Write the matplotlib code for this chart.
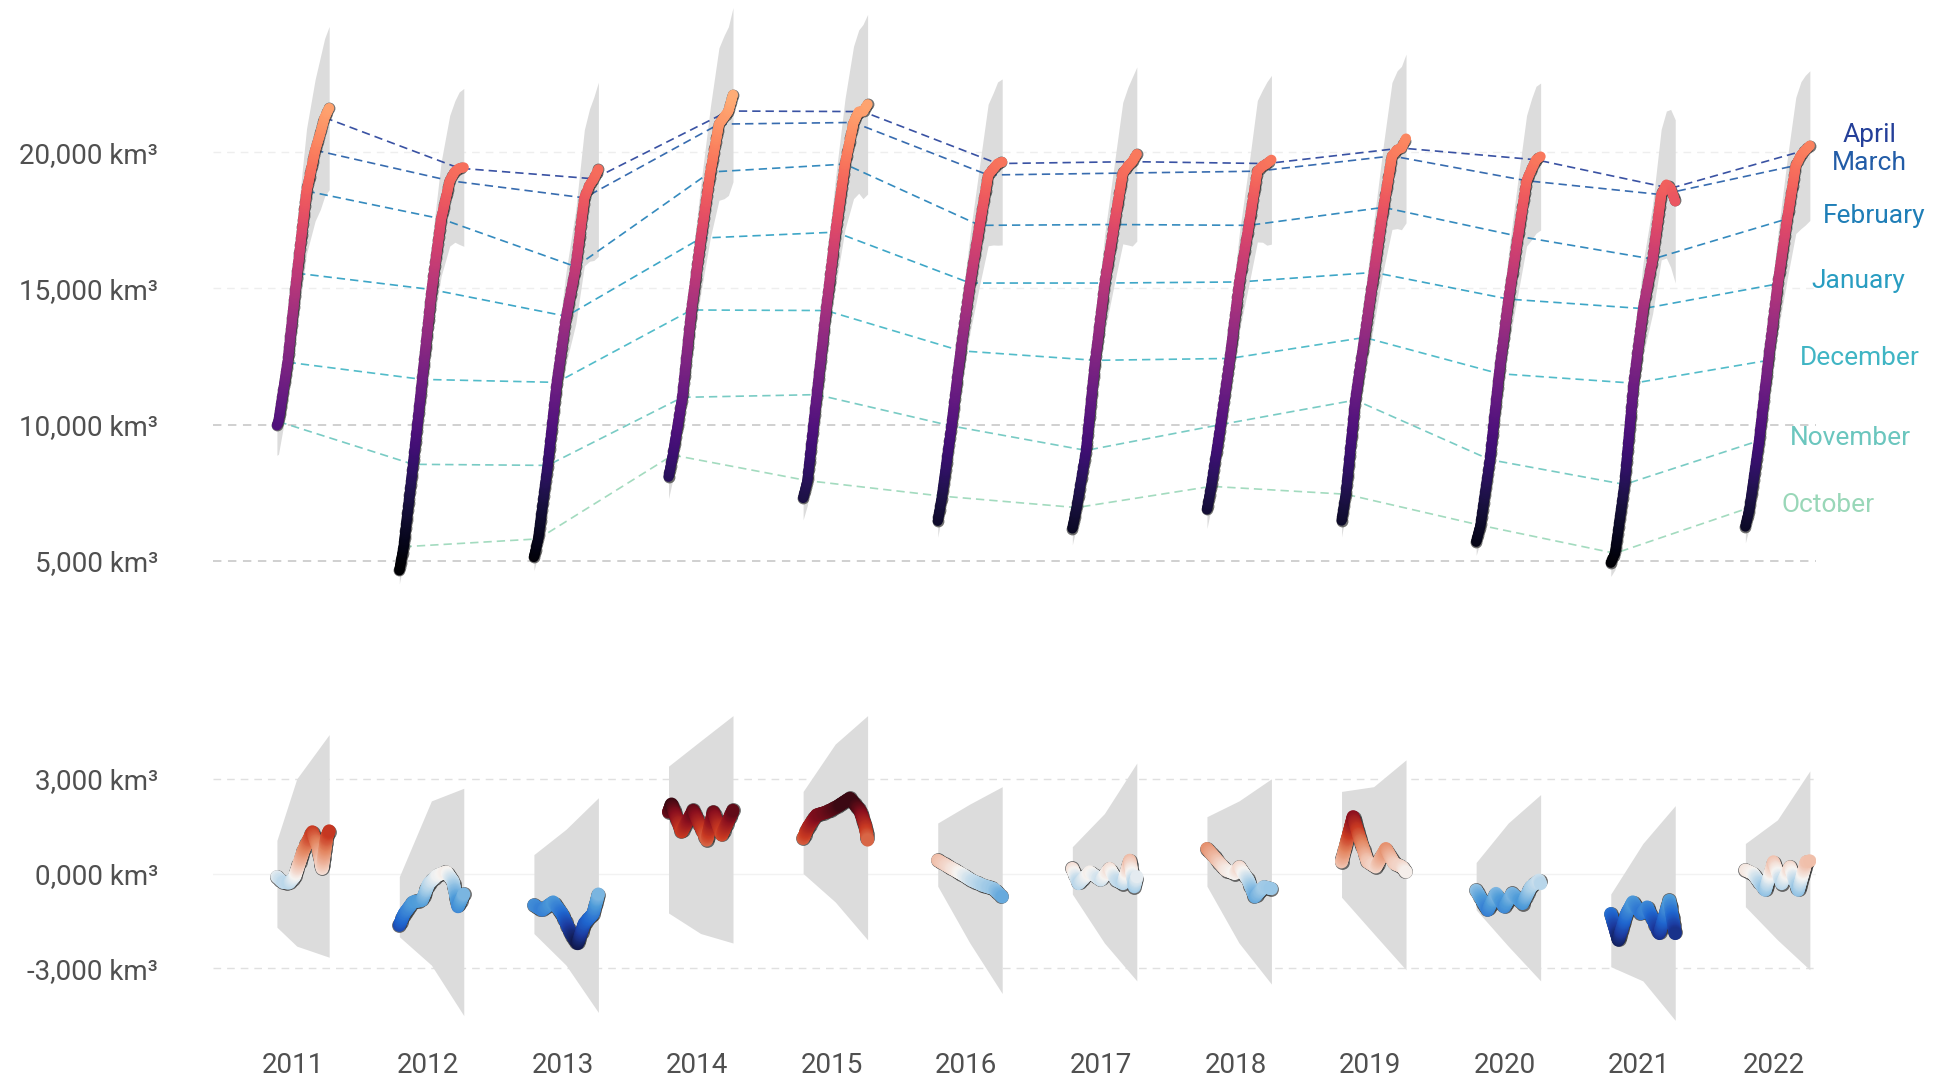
import numpy as np
import matplotlib
matplotlib.use('Agg')
import matplotlib.pyplot as plt
from matplotlib.colors import Normalize, LinearSegmentedColormap

plt.rcParams['font.family'] = ['Roboto', 'DejaVu Sans']

years = [2011, 2012, 2013, 2014, 2015, 2016, 2017, 2018, 2019, 2020, 2021, 2022]
months = ['October', 'November', 'December', 'January', 'February', 'March', 'April']

vol_days = [0, 14, 45, 75, 106, 137, 165, 182, 196, 211]
month_idx = [1, 2, 3, 4, 5, 6, 8]   # mid-month entries of vol_days
first_day = [40, 0, 0, 0, 0, 0, 0, 0, 0, 0, 0, 0]   # 2011 season starts in November
nan = np.nan

# sea ice volume, km3
volume = [
    [9970, nan, 10110, 12290, 15560, 18580, 20080, 20700, 21280, 21630],
    [4640, 5510, 8540, 11660, 14960, 17560, 18960, 19300, 19420, 19450],
    [5130, 5800, 8500, 11550, 13980, 15800, 18330, 18800, 19030, 19380],
    [8080, 8880, 11000, 14210, 16850, 19280, 21040, 21300, 21520, 22120],
    [7300, 7940, 11100, 14190, 17070, 19570, 21100, 21500, 21500, 21770],
    [6460, 7370, 9950, 12710, 15200, 17320, 19170, 19400, 19590, 19650],
    [6180, 6950, 9050, 12360, 15200, 17350, 19240, 19500, 19660, 19940],
    [6880, 7730, 10000, 12430, 15240, 17320, 19310, 19500, 19590, 19730],
    [6470, 7440, 10900, 13200, 15590, 17980, 19870, 20100, 20160, 20510],
    [5690, 6300, 8710, 11870, 14610, 16920, 18960, 19400, 19730, 19850],
    [4920, 5270, 7800, 11520, 14260, 16080, 18450, 18820, 18680, 18200],
    [6250, 6950, 9410, 12360, 15170, 17560, 19520, 19900, 20080, 20250],
]
# half width of the uncertainty band
vol_unc = [
    [1100, nan, 1200, 1500, 1900, 2300, 2600, 2800, 2900, 3000],
    [500, 600, 900, 1300, 1700, 2100, 2400, 2600, 2800, 2900],
    [500, 600, 900, 1300, 1700, 2100, 2500, 2800, 3000, 3200],
    [800, 900, 1200, 1600, 2000, 2400, 2800, 3000, 3100, 3200],
    [800, 900, 1200, 1600, 2000, 2400, 2800, 3000, 3200, 3300],
    [600, 700, 1000, 1400, 1800, 2200, 2600, 2800, 3000, 3050],
    [600, 700, 1000, 1400, 1800, 2200, 2600, 2900, 3100, 3200],
    [700, 800, 1000, 1400, 1800, 2200, 2600, 2800, 3000, 3100],
    [600, 700, 1100, 1500, 1900, 2300, 2700, 2900, 3000, 3100],
    [500, 600, 900, 1300, 1700, 2100, 2400, 2600, 2700, 2700],
    [500, 600, 800, 1300, 1700, 2000, 2400, 2700, 2900, 3000],
    [600, 700, 1000, 1400, 1800, 2200, 2500, 2700, 2750, 2750],
]

# volume anomaly, km3 (turning points read per season)
anom_days = [
    [40, 60, 80, 98, 127, 156, 174, 188, 203, 211],
    [0, 16, 45, 74, 96, 125, 154, 176, 192, 211],
    [0, 27, 63, 92, 121, 143, 165, 194, 211],
    [0, 10, 43, 81, 125, 147, 174, 211],
    [0, 17, 44, 77, 110, 153, 186, 203, 211],
    [0, 37, 81, 110, 147, 183, 211],
    [0, 20, 57, 93, 122, 144, 166, 188, 203, 211],
    [0, 33, 62, 91, 106, 135, 157, 186, 211],
    [0, 38, 58, 85, 112, 145, 172, 198, 211],
    [0, 38, 65, 92, 118, 152, 179, 206, 211],
    [0, 25, 52, 72, 99, 119, 159, 192, 211],
    [0, 25, 65, 92, 119, 146, 173, 199, 211],
]
anom = [
    [-100, -280, -300, -100, 740, 1320, 850, 160, 1160, 1350],
    [-1640, -1270, -900, -850, -320, -50, 50, -250, -1050, -650],
    [-1000, -1160, -900, -1270, -1900, -2220, -1580, -1270, -650],
    [1950, 2200, 1320, 2000, 1060, 1950, 1220, 2000],
    [1110, 1480, 1850, 1950, 2110, 2380, 2000, 1530, 1060],
    [420, 210, -30, -210, -370, -480, -740],
    [160, -320, 50, -210, 160, -210, -320, 420, -420, -100],
    [790, 420, 110, 0, 210, -210, -740, -420, -480],
    [370, 1800, 1160, 370, 210, 790, 320, 210, 50],
    [-530, -1160, -630, -1060, -630, -950, -420, -210, -320],
    [-1270, -2110, -1270, -900, -1270, -1060, -1900, -850, -1900],
    [110, 0, -530, 370, -320, 210, -530, 370, 400],
]
band_days = [0, 105, 211]
anom_hi = [[1050, 3000, 4400], [-100, 2300, 2700], [600, 1400, 2400], [3400, 4200, 5000],
           [2600, 4100, 5000], [1600, 2200, 2750], [850, 1900, 3500], [1800, 2300, 3000],
           [2600, 2750, 3600], [350, 1600, 2500], [-650, 950, 2150], [950, 1700, 3250]]
anom_lo = [[-1700, -2300, -2650], [-2000, -2900, -4500], [-1900, -2900, -4400], [-1250, -1900, -2200],
           [0, -900, -2100], [-400, -2200, -3800], [-650, -2200, -3400], [-400, -2200, -3500],
           [-750, -1900, -3050], [-1150, -2300, -3400], [-2950, -3400, -4650], [-1050, -2100, -3050]]

TEXT = '#505050'
BAND = '#dcdcdc'
month_colors = plt.get_cmap('YlGnBu')(np.linspace(0.33, 0.84, len(months)))

# diverging map for the anomaly, a little more vivid than RdBu
anom_cmap = LinearSegmentedColormap.from_list('anom', [
    (0.00, '#111a4f'), (0.09, '#1c3a9e'), (0.18, '#1f66cf'), (0.30, '#4f9cd9'),
    (0.41, '#a9cfe8'), (0.50, '#f6f4f2'), (0.59, '#f0c0ac'), (0.70, '#e3855f'),
    (0.80, '#c93a22'), (0.91, '#8a0f1e'), (1.00, '#3b0812')])


def season_x(i, days):
    # each season is squeezed into a slanted slot around its year tick
    return i - 0.212 + 0.479 * np.asarray(days, dtype=float) / 211.0


def draw_track(ax, x, y, cmap, norm, size, z):
    # thick track drawn as overlapping dots along the straight segments
    pts = ax.transData.transform(np.column_stack([x, y]))
    xs, ys = [], []
    for k in range(len(x) - 1):
        n = max(2, int(np.hypot(*(pts[k + 1] - pts[k])) / 1.2))
        t = np.arange(n) / n
        xs.append(x[k] + (x[k + 1] - x[k]) * t)
        ys.append(y[k] + (y[k + 1] - y[k]) * t)
    xs.append([x[-1]])
    ys.append([y[-1]])
    xs = np.concatenate(xs)
    ys = np.concatenate(ys)
    # sparse, slightly larger dark dots underneath give the dotted rim
    rim = (np.sqrt(size) + 1.3) ** 2
    ax.scatter(xs[::3], ys[::3], s=rim, color=(0.2, 0.2, 0.2, 0.7), linewidths=0, zorder=z)
    ax.scatter(xs, ys, c=ys, cmap=cmap, norm=norm, s=size, linewidths=0, zorder=z + 0.005)


fig = plt.figure(figsize=(19.4, 10.81), dpi=100)
ax_top = fig.add_axes([0.1098, 0.4436, 0.8263, 0.5564])
ax_bot = fig.add_axes([0.1098, 0.0371, 0.8263, 0.3155])

for ax in (ax_top, ax_bot):
    ax.set_xlim(-0.596, 11.313)
    for s in ax.spines.values():
        s.set_visible(False)
    ax.tick_params(length=0, labelsize=20, labelcolor=TEXT)
    ax.tick_params(axis='y', pad=39.6)

ax_top.set_ylim(3500, 25600)
ax_bot.set_ylim(-5300, 5500)

# grid
for v in (5000, 10000):
    ax_top.axhline(v, color='#c4c4c4', lw=1.1, dashes=(5.5, 4.3), zorder=0)
for v in (15000, 20000):
    ax_top.axhline(v, color='#eeeeee', lw=1.0, dashes=(5.5, 4.3), zorder=0)
for v in (-3000, 3000):
    ax_bot.axhline(v, color='#e0e0e0', lw=1.0, dashes=(5.5, 4.3), zorder=0)
ax_bot.axhline(0, color='#f2f2f2', lw=1.0, zorder=0)

# --- top: volume per season ---
vol_norm = Normalize(4800, 25800)
for i, yr in enumerate(years):
    d = np.array(vol_days, dtype=float)
    d[0] = first_day[i]
    v = np.array(volume[i], dtype=float)
    u = np.array(vol_unc[i], dtype=float)
    ok = ~np.isnan(v)
    x = season_x(i, d[ok])
    ax_top.fill_between(x, v[ok] - u[ok], v[ok] + u[ok], color=BAND, lw=0, zorder=1)
    draw_track(ax_top, x, v[ok], 'magma', vol_norm, 52, 3 + i * 0.01)

# month connectors
for m, name in enumerate(months):
    k = month_idx[m]
    xs, vs = [], []
    for i in range(len(years)):
        if np.isnan(volume[i][k]):
            continue
        xs.append(season_x(i, vol_days[k]))
        vs.append(volume[i][k])
    ax_top.plot(xs, vs, color=month_colors[m], lw=1.2, dashes=(5, 3), alpha=0.9, zorder=2)

# month labels next to the last season
label_off = [(23, 2, 'left'), (22, 2, 'left'), (23, 2, 'left'), (24, 2, 'left'),
             (26, 2, 'left'), (53, 2, 'center'), (46, 11, 'center')]
for m, name in enumerate(months):
    k = month_idx[m]
    dx, dy, ha = label_off[m]
    ax_top.annotate(name, xy=(season_x(len(years) - 1, vol_days[k]), volume[-1][k]),
                    xytext=(dx, dy), textcoords='offset points', ha=ha, va='center',
                    fontsize=19, color=month_colors[m], annotation_clip=False)

ax_top.set_xticks([])
ax_top.set_yticks([5000, 10000, 15000, 20000])
ax_top.set_yticklabels(['5,000 km³', '10,000 km³', '15,000 km³', '20,000 km³'])

# --- bottom: anomaly per season ---
anom_norm = Normalize(-2200, 2200)
for i, yr in enumerate(years):
    bd = np.array(band_days, dtype=float)
    bd[0] = max(bd[0], first_day[i])
    xb = season_x(i, bd)
    ax_bot.fill_between(xb, anom_lo[i], anom_hi[i], color=BAND, lw=0, zorder=1)
    x = season_x(i, anom_days[i])
    draw_track(ax_bot, x, np.array(anom[i], dtype=float), anom_cmap, anom_norm, 88, 3 + i * 0.01)

ax_bot.set_xticks(range(len(years)))
ax_bot.set_xticklabels([str(y) for y in years])
ax_bot.tick_params(axis='x', pad=7.8)
ax_bot.set_yticks([-3000, 0, 3000])
ax_bot.set_yticklabels(['-3,000 km³', '0,000 km³', '3,000 km³'])

fig.savefig('out.png', dpi=100, facecolor='white')
